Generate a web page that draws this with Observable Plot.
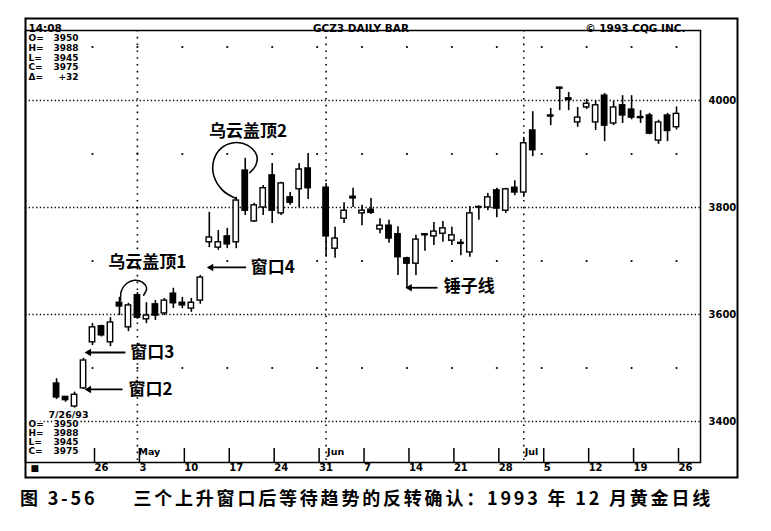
<!DOCTYPE html>
<html><head><meta charset="utf-8">
<script src="https://cdn.jsdelivr.net/npm/d3@7"></script>
<script src="https://cdn.jsdelivr.net/npm/@observablehq/plot@0.6"></script>
<style>
body{margin:0;background:#fff;}
#chart svg{display:block;}
#cap{height:34px;line-height:34px;padding-left:20px;font-family:"Noto Sans CJK SC";font-weight:bold;font-size:18px;letter-spacing:2.8px;color:#000;white-space:nowrap;}
</style></head><body>
<div id="chart"></div>
<div id="cap"><span>图 3-56</span><span style="margin-left:36px">三个上升窗口后等待趋势的反转确认：1993 年 12 月黄金日线</span></div>
<script>
// ---- data (GCZ3 daily, prices ×10) ----
const dates = ["1993-04-20","1993-04-21","1993-04-22","1993-04-23",
 "1993-04-26","1993-04-27","1993-04-28","1993-04-29","1993-04-30",
 "1993-05-03","1993-05-04","1993-05-05","1993-05-06","1993-05-07",
 "1993-05-10","1993-05-11","1993-05-12","1993-05-13","1993-05-14",
 "1993-05-17","1993-05-18","1993-05-19","1993-05-20","1993-05-21",
 "1993-05-24","1993-05-25","1993-05-26","1993-05-27","1993-05-28",
 "1993-06-01","1993-06-02","1993-06-03","1993-06-04",
 "1993-06-07","1993-06-08","1993-06-09","1993-06-10","1993-06-11",
 "1993-06-14","1993-06-15","1993-06-16","1993-06-17","1993-06-18",
 "1993-06-21","1993-06-22","1993-06-23","1993-06-24","1993-06-25",
 "1993-06-28","1993-06-29","1993-06-30","1993-07-01","1993-07-02",
 "1993-07-06","1993-07-07","1993-07-08","1993-07-09",
 "1993-07-12","1993-07-13","1993-07-14","1993-07-15","1993-07-16",
 "1993-07-19","1993-07-20","1993-07-21","1993-07-22","1993-07-23",
 "1993-07-26"];
const open = [3471,3446,3428,3462, 3548,3578,3548,3622,3576, 3636,3591,3619,3602,3639,
 3622,3611,3626,3735,3725, 3746,3735,3869,3774,3800, 3860,3789,3819,3834,3873,
 3837,3723,3779,3820, 3789,3796,3759,3766,3750, 3705,3695,3748,3746,3751,
 3738,3734,3716,3800,3800, 3832,3794,3837,3828,3944, 3972,4022,4004,3959,
 3987,3959,4009,3957,3991, 3983,3969,3972,3925,3972, 3950];
const high = [3480,3447,3455,3518, 3583,3580,3594,3632,3621, 3641,3622,3626,3630,3649,
 3632,3630,3673,3791,3757, 3761,3819,3892,3808,3841, 3882,3847,3828,3882,3901,
 3845,3763,3809,3836, 3804,3817,3779,3776,3764, 3707,3748,3751,3772,3774,
 3763,3740,3802,3803,3826, 3836,3836,3850,3931,3979, 3985,4025,4015,3987,
 4002,4000,4013,3998,4009, 4009,3981,3976,3963,3976, 3988];
const low = [3441,3436,3425,3460, 3542,3558,3540,3598,3568, 3591,3583,3589,3598,3611,
 3611,3604,3619,3725,3720, 3723,3723,3785,3772,3785, 3770,3785,3804,3800,3815,
 3707,3705,3770,3800, 3766,3787,3751,3733,3673, 3650,3673,3718,3729,3735,
 3729,3710,3707,3776,3794, 3781,3789,3822,3819,3895, 3953,3981,3981,3950,
 3983,3944,3923,3953,3957, 3964,3957,3936,3918,3923, 3945];
const close = [3445,3440,3450,3514, 3576,3561,3585,3615,3617, 3594,3598,3598,3626,3621,
 3617,3622,3669,3744,3735, 3731,3813,3794,3804,3836, 3794,3845,3809,3871,3836,
 3746,3742,3794,3817, 3794,3790,3766,3742,3707, 3695,3740,3750,3755,3761,
 3748,3732,3789,3801,3819, 3798,3834,3828,3920,3907, 3970,4024,4001,3968,
 3994,3991,3953,3987,3972, 3968,3967,3938,3959,3943, 3975];

const weekTickLabels = ["26","3","10","17","24","31","7","14","21","28","5","12","19","26"];
const weekTickDates = ["1993-04-26","1993-05-03","1993-05-10","1993-05-17","1993-05-24","1993-05-31",
 "1993-06-07","1993-06-14","1993-06-21","1993-06-28","1993-07-05","1993-07-12","1993-07-19","1993-07-26"];
const priceTicks = [3400,3600,3800,4000];
const dotLevels = [3500,3700,3900,4100];
const monthLabels = ["May","Jun","Jul"];
const monthStartDates = ["1993-05-03","1993-06-01","1993-07-01"];

// annotations (trading-day slot, price)
const titleNotes = [
 {slot: 11.1, price: 3697, text: "乌云盖顶1"},
 {slot: 22.3, price: 3942, text: "乌云盖顶2"}
];
const arrowNotes = [
 {slot: 9.2, price: 3529, text: "窗口3"},
 {slot: 9.0, price: 3460, text: "窗口2"},
 {slot: 22.6, price: 3688, text: "窗口4"},
 {slot: 44.1, price: 3652, text: "锤子线"}
];
const noteArrows = [
 {x1: 8.34, x2: 4.6, price: 3460},
 {x1: 8.67, x2: 4.6, price: 3529},
 {x1: 22.1, x2: 18.2, price: 3688},
 {x1: 43.4, x2: 40.3, price: 3650}
];
const loopSmall = [[8.12,3626],[8.23,3645],[8.79,3658],[9.68,3664],[10.57,3660],[11.02,3649],[10.69,3636]];
const loopBig = [[20.94,3817],[19.49,3832],[18.49,3860],[18.49,3888],[19.27,3910],[20.72,3921],[22.28,3916],[23.28,3897],[23.17,3879],[22.5,3865]];

// ---- derived ----
const parse = d3.utcParse("%Y-%m-%d");
const origin = parse("1993-04-19");
const slotOf = s => { const n = d3.utcDay.count(origin, parse(s)); return Math.floor(n / 7) * 5 + n % 7; };
const candles = dates.map((d, i) => ({slot: slotOf(d), open: open[i], high: high[i], low: low[i], close: close[i]}));
const weekSlots = weekTickDates.map(slotOf);
const weekLabelBySlot = new Map(weekSlots.map((s, i) => [s, weekTickLabels[i]]));
const monthSlots = monthStartDates.map(slotOf);
const gridDots = weekSlots.flatMap(s => dotLevels.map(p => ({slot: s, price: p})));
const last = candles[candles.length - 1], prev = candles[candles.length - 2];
const delta = last.close - prev.close;
const valueText = [last.open, last.high, last.low, last.close].join("\n");
const lastDate = d3.utcFormat("%-m/%-d/%y")(parse(dates[dates.length - 1]));

const font = "DejaVu Sans";
const cjk = "Noto Sans CJK SC";
const px = {fontFamily: font, fontWeight: "bold", fill: "black"};

const chart = Plot.plot({
  width: 771, height: 480,
  marginLeft: 25, marginRight: 71, marginTop: 30, marginBottom: 18,
  x: {domain: [-2.457, 72.67], axis: null},
  y: {domain: [3323.4, 4130.8], axis: null},
  style: {fontFamily: font, background: "white", color: "black"},
  marks: [
    Plot.ruleY(priceTicks, {stroke: "black", strokeWidth: 1.5, strokeDasharray: "1.3,2.4"}),
    Plot.ruleX(monthSlots, {stroke: "black", strokeWidth: 1.6, strokeDasharray: "1.6,5.2"}),
    Plot.dot(gridDots, {x: "slot", y: "price", r: 1.1, fill: "black", stroke: null}),
    Plot.text(monthLabels, {...px, x: (d, i) => monthSlots[i], frameAnchor: "bottom", text: d => d, textAnchor: "start", dx: 1, dy: -8, fontSize: 9.5}),
    // candles
    Plot.ruleX(candles, {x: "slot", y1: "low", y2: "high", stroke: "black", strokeWidth: 1.6}),
    Plot.rect(candles, {x1: d => d.slot - 0.3, x2: d => d.slot + 0.3, y1: "open", y2: "close",
      fill: d => d.close < d.open ? "black" : "white", stroke: "black", strokeWidth: 1.4}),
    // annotations
    Plot.line(loopSmall, {x: d => d[0], y: d => d[1], curve: "catmull-rom", stroke: "black", strokeWidth: 1.5}),
    Plot.line(loopBig, {x: d => d[0], y: d => d[1], curve: "catmull-rom", stroke: "black", strokeWidth: 1.6}),
    Plot.link(noteArrows, {x1: "x1", x2: "x2", y1: "price", y2: "price", stroke: "black", strokeWidth: 1.8}),
    Plot.dot(noteArrows, {x: "x2", y: "price", symbol: "triangle2", rotate: -90, r: 3.6, fill: "black", stroke: null}),
    Plot.text(titleNotes, {x: "slot", y: "price", text: "text", textAnchor: "middle", fontFamily: cjk, fontWeight: "bold", fontSize: 17, fill: "black"}),
    Plot.text(arrowNotes, {x: "slot", y: "price", text: "text", textAnchor: "start", fontFamily: cjk, fontWeight: "bold", fontSize: 17, fill: "black"}),
    // info panels
    Plot.text(["O=\nH=\nL=\nC=\nΔ="], {...px, frameAnchor: "top-left", dx: 3, dy: 4, lineAnchor: "top", lineHeight: 1.07, fontSize: 9}),
    Plot.text([valueText + "\n+" + delta], {...px, frameAnchor: "top-left", dx: 53, dy: 4, textAnchor: "end", lineAnchor: "top", lineHeight: 1.07, fontSize: 9}),
    Plot.text([lastDate], {...px, frameAnchor: "bottom-left", dx: 23, dy: -45, lineAnchor: "bottom", fontSize: 9.5, stroke: "white", strokeWidth: 3}),
    Plot.text(["O=\nH=\nL=\nC="], {...px, frameAnchor: "bottom-left", dx: 3, dy: -9, lineAnchor: "bottom", lineHeight: 1.0, fontSize: 9, stroke: "white", strokeWidth: 3}),
    Plot.text([valueText], {...px, frameAnchor: "bottom-left", dx: 53, dy: -9, textAnchor: "end", lineAnchor: "bottom", lineHeight: 1.0, fontSize: 9, stroke: "white", strokeWidth: 3}),
    // header
    Plot.text(["14:08"], {...px, frameAnchor: "top-left", dx: 3, dy: -6, fontSize: 10.5}),
    Plot.text(["GCZ3 DAILY BAR"], {...px, frameAnchor: "top", dx: -2, dy: -6, fontSize: 10.5}),
    Plot.text(["© 1993 CQG INC."], {...px, frameAnchor: "top-right", dx: -15, dy: -6, textAnchor: "end", fontSize: 10.5}),
    // axes
    Plot.axisY(priceTicks, {anchor: "right", tickSize: 0, tickPadding: 8, fontSize: 10, fontWeight: "bold", fontFamily: font, tickFormat: d => String(d)}),
    Plot.axisX(weekSlots, {anchor: "bottom", tickSize: 15, tickPadding: 0, strokeWidth: 1.5,
      tickFormat: d => weekLabelBySlot.get(d), textAnchor: "start", dx: 2, dy: -14, fontSize: 10, fontWeight: "bold", fontFamily: font}),
    Plot.text(["■"], {frameAnchor: "bottom-left", dx: 5, dy: 8, fontSize: 9, fill: "black"}),
    Plot.frame({stroke: "black", strokeWidth: 1.5}),
    Plot.frame({stroke: "black", strokeWidth: 2, insetTop: -12, insetBottom: -15, insetRight: -37})
  ]
});
document.getElementById("chart").append(chart);
</script>
</body></html>
